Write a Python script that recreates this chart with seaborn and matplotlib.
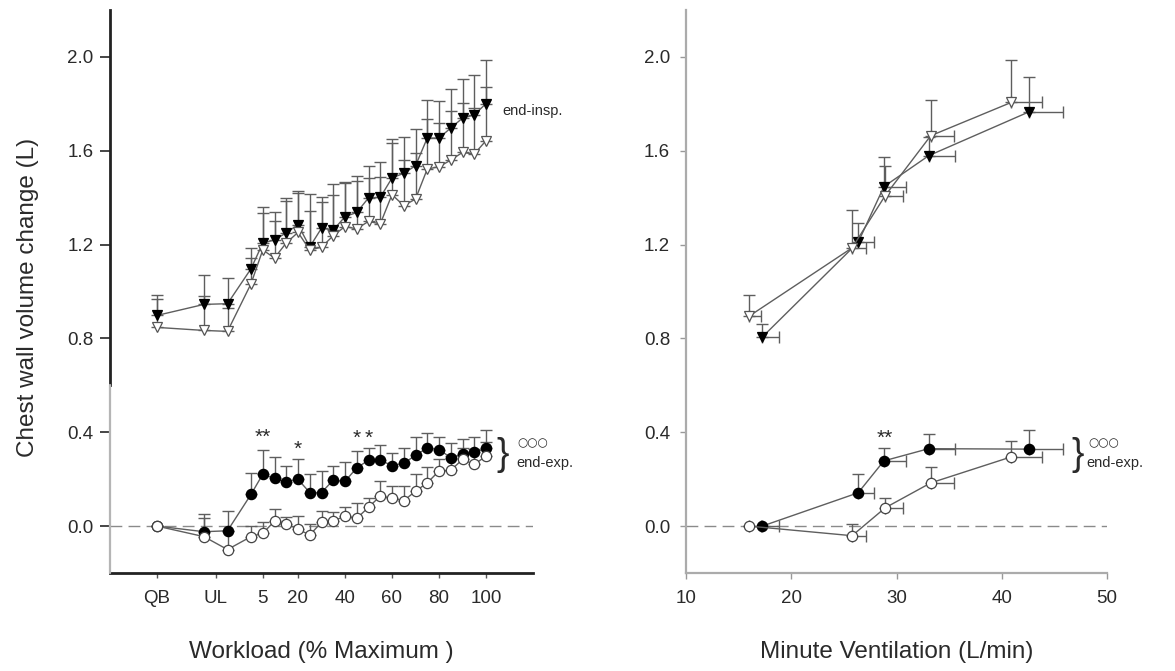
import numpy as np
import matplotlib
matplotlib.use('Agg')
import matplotlib.pyplot as plt
import seaborn as sns

# --- data ---
# workload axis: QB plotted at -40, the two UL points at -20 and -10, then % of max
workload_x = [-40, -20, -10, 0, 5, 10, 15, 20, 25, 30, 35, 40, 45, 50, 55,
              60, 65, 70, 75, 80, 85, 90, 95, 100]
workload_ticks = [-40, -15, 5, 20, 40, 60, 80, 100]
workload_labels = ['QB', 'UL', '5', '20', '40', '60', '80', '100']

insp_filled = [0.898, 0.945, 0.948, 1.097, 1.206, 1.22, 1.25, 1.285, 1.19, 1.27,
               1.262, 1.319, 1.337, 1.399, 1.401, 1.484, 1.504, 1.536, 1.654,
               1.654, 1.697, 1.739, 1.753, 1.801]
insp_filled_sd = [0.085, 0.126, 0.11, 0.089, 0.153, 0.117, 0.147, 0.142, 0.226,
                  0.131, 0.196, 0.146, 0.154, 0.137, 0.149, 0.168, 0.156, 0.156,
                  0.163, 0.156, 0.165, 0.166, 0.169, 0.185]
insp_open = [0.847, 0.834, 0.83, 1.033, 1.177, 1.143, 1.207, 1.252, 1.177, 1.189,
             1.238, 1.277, 1.267, 1.299, 1.288, 1.413, 1.366, 1.394, 1.522, 1.532,
             1.56, 1.593, 1.586, 1.643]
insp_open_sd = [0.122, 0.146, 0.1, 0.11, 0.158, 0.156, 0.18, 0.166, 0.168, 0.194,
                0.175, 0.184, 0.205, 0.183, 0.198, 0.218, 0.194, 0.195, 0.215,
                0.188, 0.21, 0.21, 0.198, 0.229]

exp_filled = [0.0, -0.024, -0.02, 0.135, 0.221, 0.203, 0.189, 0.199, 0.143, 0.143,
              0.196, 0.191, 0.248, 0.281, 0.281, 0.258, 0.267, 0.302, 0.333, 0.326,
              0.292, 0.306, 0.314, 0.331]
exp_filled_sd = [0.0, 0.075, 0.084, 0.09, 0.105, 0.092, 0.068, 0.085, 0.081, 0.092,
                 0.061, 0.083, 0.072, 0.052, 0.064, 0.054, 0.066, 0.078, 0.064,
                 0.054, 0.064, 0.064, 0.066, 0.078]
exp_open = [0.0, -0.045, -0.10, -0.045, -0.031, 0.021, 0.009, -0.013, -0.038, 0.016,
            0.021, 0.043, 0.033, 0.080, 0.128, 0.118, 0.108, 0.149, 0.184, 0.235,
            0.238, 0.284, 0.263, 0.298]
exp_open_sd = [0.0, 0.08, 0.08, 0.045, 0.047, 0.05, 0.03, 0.055, 0.045, 0.049,
               0.04, 0.039, 0.066, 0.04, 0.063, 0.052, 0.062, 0.071, 0.068, 0.05,
               0.06, 0.05, 0.065, 0.061]

# minute ventilation panel
ve_open = [15.97, 25.78, 28.93, 33.25, 40.9]
ve_open_sd = [1.13, 1.36, 1.73, 2.25, 2.97]
ve_filled = [17.25, 26.36, 28.8, 33.06, 42.6]
ve_filled_sd = [1.6, 1.53, 2.1, 2.5, 3.2]

ve_insp_open = [0.894, 1.186, 1.409, 1.664, 1.806]
ve_insp_open_sd = [0.093, 0.162, 0.127, 0.153, 0.181]
ve_insp_filled = [0.806, 1.21, 1.447, 1.579, 1.766]
ve_insp_filled_sd = [0.054, 0.081, 0.127, 0.08, 0.149]
ve_exp_open = [0.0, -0.041, 0.078, 0.184, 0.295]
ve_exp_open_sd = [0.0, 0.052, 0.04, 0.066, 0.067]
ve_exp_filled = [0.0, 0.142, 0.278, 0.33, 0.328]
ve_exp_filled_sd = [0.0, 0.082, 0.055, 0.064, 0.081]

y_ticks = [0.0, 0.4, 0.8, 1.2, 1.6, 2.0]

sns.set_style('ticks')
plt.rcParams['font.family'] = ['Liberation Sans', 'DejaVu Sans']
plt.rcParams['text.color'] = '#222222'

LINE = '#5e5e5e'
TXT = '#2a2a2a'


def draw_series(ax, x, y, yerr, marker, face, edge, xerr=None, ms=7.5):
    zeros = np.zeros(len(y))
    xe = None if xerr is None else [zeros, xerr]
    ax.errorbar(x, y, yerr=[zeros, yerr], xerr=xe, fmt='none', ecolor=LINE,
                elinewidth=1, capsize=4.5, capthick=1, zorder=2)
    sns.lineplot(x=x, y=y, ax=ax, sort=False, estimator=None, color=LINE,
                 linewidth=1, marker=marker, markersize=ms, markerfacecolor=face,
                 markeredgecolor=edge, markeredgewidth=0.9, zorder=3)


fig = plt.figure(figsize=(11.75, 6.71), dpi=100)
ax1 = fig.add_axes([110 / 1175, 98 / 671, 423 / 1175, 563 / 671])
ax2 = fig.add_axes([686 / 1175, 98 / 671, 421 / 1175, 563 / 671])

# --- left panel: workload ---
ax1.axhline(0, color='#8a8a8a', lw=1, dashes=(8.5, 4.5), zorder=1)
draw_series(ax1, workload_x, insp_filled, insp_filled_sd, 'v', 'black', 'black')
draw_series(ax1, workload_x, insp_open, insp_open_sd, 'v', 'white', '#555555')
draw_series(ax1, workload_x, exp_filled, exp_filled_sd, 'o', 'black', 'black', ms=7.4)
draw_series(ax1, workload_x, exp_open, exp_open_sd, 'o', 'white', '#444444', ms=7.4)

ax1.set_xlim(-60, 120)
ax1.set_ylim(-0.2, 2.2)
ax1.set_xticks(workload_ticks)
ax1.set_xticklabels(workload_labels)
ax1.set_yticks(y_ticks)
ax1.set_yticklabels([f'{v:.1f}' for v in y_ticks])
sns.despine(ax=ax1)
ax1.spines['left'].set_bounds(0.6, 2.2)
ax1.spines['left'].set_color('#222222')
ax1.spines['left'].set_linewidth(2)
ax1.spines['bottom'].set_color('#222222')
ax1.spines['bottom'].set_linewidth(2)
ax1.plot([-60, -60], [-0.2, 0.6], color='#b5b5b5', lw=1.6, clip_on=False, zorder=5)
ax1.tick_params(axis='y', length=7, width=1.2, pad=5, labelsize=13.5, labelcolor=TXT)
ax1.tick_params(axis='x', length=3.5, width=1, pad=9, labelsize=13.5, labelcolor=TXT,
                color='#555555')
for tick, val in zip(ax1.yaxis.get_major_ticks(), y_ticks):
    tick.tick1line.set_color('#b5b5b5' if val < 0.6 else '#222222')

ax1.set_xlabel('Workload (% Maximum )', fontsize=17.5, color=TXT, labelpad=24)
ax1.set_ylabel('Chest wall volume change (L)', fontsize=17.5, color=TXT)
ax1.yaxis.set_label_coords(-0.168, 0.49)

ax1.text(107, 1.77, 'end-insp.', fontsize=10.5, va='center', ha='left', color=TXT)
ax1.text(104.5, 0.305, '}', fontsize=27, va='center', ha='left', color=TXT,
         fontweight='light')
ax1.text(113.5, 0.354, '○○○', fontsize=8.5, va='center', ha='left', color=TXT,
         family=['DejaVu Sans'])
ax1.text(113.0, 0.268, 'end-exp.', fontsize=10.5, va='center', ha='left', color=TXT)
ax1.text(5, 0.378, '**', fontsize=15, va='center', ha='center', color=TXT)
ax1.text(20, 0.328, '*', fontsize=15, va='center', ha='center', color=TXT)
ax1.text(45, 0.373, '*', fontsize=15, va='center', ha='center', color=TXT)
ax1.text(50, 0.373, '*', fontsize=15, va='center', ha='center', color=TXT)

# --- right panel: minute ventilation ---
ax2.axhline(0, color='#8a8a8a', lw=1, dashes=(8.5, 4.5), zorder=1)
draw_series(ax2, ve_filled, ve_insp_filled, ve_insp_filled_sd, 'v', 'black', 'black',
            xerr=ve_filled_sd)
draw_series(ax2, ve_open, ve_insp_open, ve_insp_open_sd, 'v', 'white', '#555555',
            xerr=ve_open_sd)
draw_series(ax2, ve_filled, ve_exp_filled, ve_exp_filled_sd, 'o', 'black', 'black',
            xerr=ve_filled_sd, ms=7.4)
draw_series(ax2, ve_open, ve_exp_open, ve_exp_open_sd, 'o', 'white', '#444444',
            xerr=ve_open_sd, ms=7.4)

ax2.set_xlim(10, 50)
ax2.set_ylim(-0.2, 2.2)
ax2.set_xticks([10, 20, 30, 40, 50])
ax2.set_yticks(y_ticks)
ax2.set_yticklabels([f'{v:.1f}' for v in y_ticks])
sns.despine(ax=ax2)
for side in ['left', 'bottom']:
    ax2.spines[side].set_color('#ababab')
    ax2.spines[side].set_linewidth(1.6)
ax2.tick_params(axis='both', length=4.5, width=1, color='#999999', labelsize=13.5,
                labelcolor=TXT)
ax2.tick_params(axis='y', pad=7)
ax2.tick_params(axis='x', pad=8)
ax2.set_xlabel('Minute Ventilation (L/min)', fontsize=17.5, color=TXT, labelpad=24)

ax2.text(46.6, 0.305, '}', fontsize=27, va='center', ha='left', color=TXT,
         fontweight='light')
ax2.text(48.2, 0.354, '○○○', fontsize=8.5, va='center', ha='left', color=TXT,
         family=['DejaVu Sans'])
ax2.text(48.0, 0.268, 'end-exp.', fontsize=10.5, va='center', ha='left', color=TXT)
ax2.text(28.9, 0.373, '**', fontsize=15, va='center', ha='center', color=TXT)

fig.savefig('out.png', dpi=100)
